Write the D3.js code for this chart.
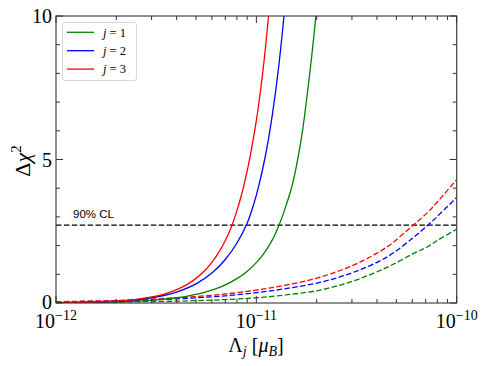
<!DOCTYPE html>
<html><head><meta charset="utf-8">
<script src="https://cdn.jsdelivr.net/npm/d3@7"></script>
<style>body{margin:0;background:#fff}svg{display:block}</style>
</head><body><svg id="c" width="488" height="366"></svg>
<script>
// Λ_j values (in units of 1e-12 μ_B) and Δχ² values
const lambdaSolidJ1 = [1, 1.5, 2, 2.5, 3.184, 4, 4.667, 5.5, 6.745, 8, 8.954, 10, 10.84, 12, 12.94, 14, 15.03, 16, 17, 18, 19, 19.82];
const chi2SolidJ1   = [0.0086, 0.021, 0.0395, 0.0646, 0.11, 0.1825, 0.258, 0.37, 0.58, 0.849, 1.09, 1.405, 1.70, 2.19, 2.69, 3.35, 4.05, 4.92, 6.0, 7.35, 8.75, 10.0];
const lambdaSolidJ2 = [1, 1.5, 2, 2.5, 3, 3.5, 4, 5, 6, 7, 8, 9, 9.5, 10, 10.5, 11, 11.5, 12, 12.5, 13, 13.5, 13.74];
const chi2SolidJ2   = [0.0094, 0.028, 0.061, 0.112, 0.181, 0.27, 0.382, 0.668, 1.044, 1.517, 2.09, 2.78, 3.24, 3.76, 4.35, 5.0, 5.72, 6.53, 7.41, 8.38, 9.46, 10.0];
const lambdaSolidJ3 = [1, 1.5, 2, 2.5, 3, 3.5, 4, 4.5, 5, 5.5, 6, 6.5, 7, 7.5, 8, 8.5, 9, 9.5, 10, 10.5, 11, 11.5];
const chi2SolidJ3   = [0.011, 0.034, 0.069, 0.128, 0.211, 0.322, 0.465, 0.642, 0.858, 1.115, 1.417, 1.77, 2.177, 2.65, 3.22, 3.86, 4.6, 5.44, 6.36, 7.42, 8.62, 10.0];

const lambdaDashed  = [1, 2, 3, 4.67, 7, 10, 14, 20.8, 30.5, 44.8, 60.8, 72, 79.6, 100];
const chi2DashedJ1  = [0.015, 0.032, 0.05, 0.075, 0.12, 0.18, 0.28, 0.45, 0.77, 1.24, 1.72, 1.97, 2.17, 2.57];
const chi2DashedJ2  = [0.036, 0.072, 0.108, 0.17, 0.25, 0.36, 0.50, 0.72, 1.07, 1.6, 2.28, 2.72, 3.0, 3.68];
const chi2DashedJ3  = [0.045, 0.09, 0.135, 0.21, 0.315, 0.45, 0.62, 0.9, 1.32, 1.95, 2.72, 3.17, 3.5, 4.3];

const lambdaUnit = 1e-12;
const seriesNames  = ["j = 1", "j = 2", "j = 3"];
const seriesColors = ["#008000", "#0000ff", "#ff0000"];
const clLevel = 2.71;
const clLabel = "90% CL";
const xTickExps = [-12, -11, -10];
const yMajorTicks = [0, 5, 10];
const yMinorTicks = [1, 2, 3, 4, 6, 7, 8, 9];

const svg = d3.select("#c");
const L = 56, R = 456.7, T = 16, B = 303;
const x = d3.scaleLog().domain([1e-12, 1e-10]).range([L, R]);
const y = d3.scaleLinear().domain([0, 10]).range([B, T]);
const serif = "'Liberation Serif', 'DejaVu Serif', serif";

svg.append("defs").append("clipPath").attr("id", "clip")
  .append("rect").attr("x", L).attr("y", T - 1).attr("width", R - L).attr("height", B - T + 1);

const line = d3.line().x(d => x(d[0] * lambdaUnit)).y(d => y(d[1])).curve(d3.curveCatmullRom.alpha(0.5));
const g = svg.append("g").attr("clip-path", "url(#clip)");

const solid = [[lambdaSolidJ1, chi2SolidJ1], [lambdaSolidJ2, chi2SolidJ2], [lambdaSolidJ3, chi2SolidJ3]];
const dashed = [chi2DashedJ1, chi2DashedJ2, chi2DashedJ3];

// CL line
g.append("line").attr("x1", L).attr("x2", R).attr("y1", y(clLevel)).attr("y2", y(clLevel))
  .attr("stroke", "#000").attr("stroke-width", 1.3).attr("stroke-dasharray", "5.5,2.4");

dashed.forEach((vals, i) => {
  g.append("path").datum(lambdaDashed.map((l, k) => [l, vals[k]]))
    .attr("d", line).attr("fill", "none").attr("stroke", seriesColors[i])
    .attr("stroke-width", 1.3).attr("stroke-dasharray", "5.5,2.4");
});
solid.forEach((s, i) => {
  g.append("path").datum(s[0].map((l, k) => [l, s[1][k]]))
    .attr("d", line).attr("fill", "none").attr("stroke", seriesColors[i])
    .attr("stroke-width", 1.3);
});

svg.append("text").attr("x", 73).attr("y", 217.5)
  .attr("font-family", "'Liberation Sans', Arial, sans-serif").attr("font-size", 11.5)
  .attr("fill", "#000").text(clLabel);

// ticks
const axisColor = "#333";
const tg = svg.append("g").attr("stroke", axisColor).attr("stroke-width", 1);
x.ticks().forEach(t => {
  const major = xTickExps.some(e => Math.abs(Math.log10(t) - e) < 1e-6);
  const len = major ? 7 : 4;
  const px = x(t);
  tg.append("line").attr("x1", px).attr("x2", px).attr("y1", B).attr("y2", B - len);
  tg.append("line").attr("x1", px).attr("x2", px).attr("y1", T).attr("y2", T + len);
});
yMajorTicks.concat(yMinorTicks).forEach(t => {
  const len = yMajorTicks.includes(t) ? 7 : 4;
  const py = y(t);
  tg.append("line").attr("x1", L).attr("x2", L + len).attr("y1", py).attr("y2", py);
  tg.append("line").attr("x1", R).attr("x2", R - len).attr("y1", py).attr("y2", py);
});
svg.append("rect").attr("x", L).attr("y", T).attr("width", R - L).attr("height", B - T)
  .attr("fill", "none").attr("stroke", axisColor).attr("stroke-width", 1.1);

// tick labels
xTickExps.forEach(e => {
  const t = svg.append("text").attr("x", x(Math.pow(10, e))).attr("y", 328)
    .attr("text-anchor", "middle").attr("font-family", serif).attr("font-size", 20).attr("fill", "#000");
  t.append("tspan").text("10");
  t.append("tspan").attr("dy", -8).attr("font-size", 14).text("\u2212" + Math.abs(e));
});
yMajorTicks.forEach(v => {
  svg.append("text").attr("x", 52).attr("y", y(v) + (v === 0 ? 5.5 : 7))
    .attr("text-anchor", "end").attr("font-family", serif).attr("font-size", 20).attr("fill", "#000").text(v);
});

// axis labels
const xl = svg.append("text").attr("x", 256).attr("y", 352).attr("text-anchor", "middle")
  .attr("font-family", serif).attr("font-size", 20).attr("fill", "#000");
xl.append("tspan").text("\u039B");
xl.append("tspan").attr("dy", 4).attr("font-size", 14).attr("font-style", "italic").text("j");
xl.append("tspan").attr("dy", -4).text(" [");
xl.append("tspan").attr("font-style", "italic").text("\u03BC");
xl.append("tspan").attr("dy", 4).attr("font-size", 14).attr("font-style", "italic").text("B");
xl.append("tspan").attr("dy", -4).text("]");

const yl = svg.append("text").attr("transform", "translate(30,161) rotate(-90)").attr("text-anchor", "middle")
  .attr("font-family", serif).attr("font-size", 22).attr("fill", "#000");
yl.append("tspan").text("\u0394");
yl.append("tspan").attr("font-style", "italic").text("\u03C7");
yl.append("tspan").attr("dy", -9).attr("font-size", 15).text("2");

// legend
const lg = svg.append("g");
lg.append("rect").attr("x", 62.5).attr("y", 22.5).attr("width", 74).attr("height", 58).attr("rx", 2.5)
  .attr("fill", "#fff").attr("stroke", "#d8d8d8").attr("stroke-width", 1);
seriesNames.forEach((n, i) => {
  const cy = 32.3 + i * 18.4;
  lg.append("line").attr("x1", 67).attr("x2", 94).attr("y1", cy).attr("y2", cy)
    .attr("stroke", seriesColors[i]).attr("stroke-width", 1.3);
  const parts = n.split(" = ");
  const t = lg.append("text").attr("x", 103).attr("y", cy + 4.3)
    .attr("font-family", serif).attr("font-size", 12.5).attr("fill", "#000");
  t.append("tspan").attr("font-style", "italic").text(parts[0]);
  t.append("tspan").text(" = " + parts[1]);
});
</script>
</body></html>
